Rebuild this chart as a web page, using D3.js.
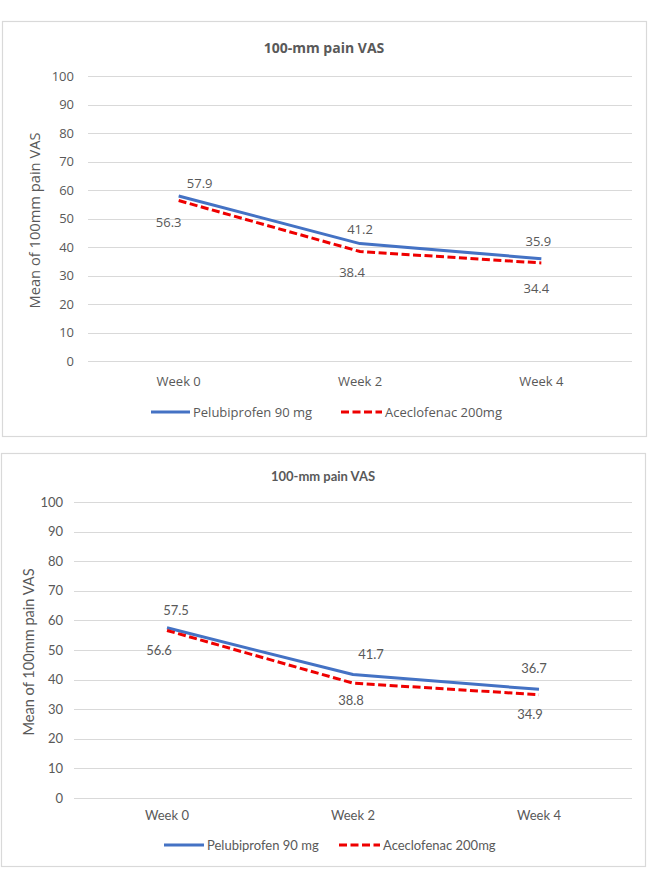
<!DOCTYPE html>
<html>
<head>
<meta charset="utf-8">
<script src="https://cdn.jsdelivr.net/npm/d3@7"></script>
<style>
  body { margin: 0; background: #fff; }
  .grid line { stroke: #d9d9d9; stroke-width: 1; }
  .frame { fill: #fff; stroke: #d9d9d9; stroke-width: 1.2; }
  text { fill: #595959; }
</style>
</head>
<body>
<svg id="chart"></svg>
<script>
      //begin: data
      var weeks = ["Week 0", "Week 2", "Week 4"];
      var seriesNames = ["Pelubiprofen 90 mg", "Aceclofenac 200mg"];
      var yTicks = [0, 10, 20, 30, 40, 50, 60, 70, 80, 90, 100];
      var chartTitle = "100-mm pain VAS";
      var yTitle = "Mean of 100mm pain VAS";

      var topPelubiprofen = [57.9, 41.2, 35.9];
      var topAceclofenac = [56.3, 38.4, 34.4];
      var bottomPelubiprofen = [57.5, 41.7, 36.7];
      var bottomAceclofenac = [56.6, 38.8, 34.9];
      //end: data

      //begin: styling conf.
      var blue = "#4472c4",
          red = "#ee0000",
          lineWidth = 3,
          dash = "8,3.5";
      //end: styling conf.

      //begin: layout conf.
      var svgWidth = 649,
          svgHeight = 871;

      var panels = [
        {
          box: {x: 2, y: 21, w: 644, h: 415},
          plot: {left: 88, right: 632, top: 76, bottom: 361},
          font: "'Open Sans', 'Noto Sans', sans-serif",
          fontSize: 13, titleSize: 14, yTitleSize: 14.7,
          titleY: 48, tickRight: 74, yTitleX: 35, weekY: 381, legendY: 412,
          legend: [{x1: 151, x2: 190}, {x1: 341, x2: 382}],
          blue: topPelubiprofen, red: topAceclofenac,
          blueOffsets: [[21, -13], [0, -14], [-3, -17]],
          redOffsets: [[-10, 22], [-8, 21], [-5, 25]]
        },
        {
          box: {x: 1, y: 453, w: 644, h: 413},
          plot: {left: 74, right: 632, top: 502, bottom: 798},
          font: "Lato, 'Open Sans', sans-serif",
          fontSize: 13, titleSize: 13, yTitleSize: 14.6,
          titleY: 476, tickRight: 63, yTitleX: 29, weekY: 815, legendY: 845,
          legend: [{x1: 164, x2: 204}, {x1: 339, x2: 380}],
          blue: bottomPelubiprofen, red: bottomAceclofenac,
          blueOffsets: [[9, -17], [18, -20], [-5, -21]],
          redOffsets: [[-8, 20], [-2, 17], [-9, 20]]
        }
      ];
      //end: layout conf.

      var svg = d3.select("#chart")
        .attr("width", svgWidth)
        .attr("height", svgHeight);

      panels.forEach(drawPanel);

      function drawPanel(p) {
        var g = svg.append("g")
          .style("font-family", p.font);

        g.append("rect")
          .classed("frame", true)
          .attr("x", p.box.x + 0.5)
          .attr("y", p.box.y + 0.5)
          .attr("width", p.box.w)
          .attr("height", p.box.h);

        var x = d3.scaleBand()
          .domain(weeks)
          .range([p.plot.left, p.plot.right]);

        var y = d3.scaleLinear()
          .domain([0, 100])
          .range([p.plot.bottom, p.plot.top]);

        // title
        g.append("text")
          .attr("x", (p.box.x + p.box.x + p.box.w) / 2)
          .attr("y", p.titleY)
          .attr("dy", "0.35em")
          .attr("text-anchor", "middle")
          .style("font-size", p.titleSize + "px")
          .style("font-weight", "bold")
          .text(chartTitle);

        // gridlines + y tick labels
        var grid = g.append("g").classed("grid", true);
        grid.selectAll("line")
          .data(yTicks)
          .enter().append("line")
          .attr("x1", p.plot.left)
          .attr("x2", p.plot.right)
          .attr("y1", function(d){ return Math.round(y(d)) + 0.5; })
          .attr("y2", function(d){ return Math.round(y(d)) + 0.5; });

        g.append("g").selectAll("text")
          .data(yTicks)
          .enter().append("text")
          .attr("x", p.tickRight)
          .attr("y", function(d){ return y(d); })
          .attr("dy", "0.35em")
          .attr("text-anchor", "end")
          .style("font-size", p.fontSize + "px")
          .text(function(d){ return d; });

        // y axis title
        g.append("text")
          .attr("transform", "translate(" + [p.yTitleX, (p.plot.top + p.plot.bottom) / 2 + 2] + ") rotate(-90)")
          .attr("dy", "0.35em")
          .attr("text-anchor", "middle")
          .style("font-size", p.yTitleSize + "px")
          .text(yTitle);

        // x category labels
        g.append("g").selectAll("text")
          .data(weeks)
          .enter().append("text")
          .attr("x", function(d){ return x(d) + x.bandwidth() / 2; })
          .attr("y", p.weekY)
          .attr("dy", "0.35em")
          .attr("text-anchor", "middle")
          .style("font-size", p.fontSize + "px")
          .text(function(d){ return d; });

        var line = d3.line()
          .x(function(d, i){ return x(weeks[i]) + x.bandwidth() / 2; })
          .y(function(d){ return y(d); });

        g.append("path")
          .attr("d", line(p.blue))
          .attr("fill", "none")
          .attr("stroke", blue)
          .attr("stroke-width", lineWidth)
          .attr("stroke-linejoin", "round");

        g.append("path")
          .attr("d", line(p.red))
          .attr("fill", "none")
          .attr("stroke", red)
          .attr("stroke-width", lineWidth)
          .attr("stroke-dasharray", dash);

        // data labels
        function labels(values, offsets) {
          g.append("g").selectAll("text")
            .data(values)
            .enter().append("text")
            .attr("x", function(d, i){ return x(weeks[i]) + x.bandwidth() / 2 + offsets[i][0]; })
            .attr("y", function(d, i){ return y(d) + offsets[i][1]; })
            .attr("dy", "0.35em")
            .attr("text-anchor", "middle")
            .style("font-size", p.fontSize + "px")
            .text(function(d){ return d.toFixed(1); });
        }
        labels(p.blue, p.blueOffsets);
        labels(p.red, p.redOffsets);

        // legend
        var legend = g.append("g").selectAll("g")
          .data(seriesNames)
          .enter().append("g");

        legend.append("line")
          .attr("x1", function(d, i){ return p.legend[i].x1; })
          .attr("x2", function(d, i){ return p.legend[i].x2; })
          .attr("y1", p.legendY)
          .attr("y2", p.legendY)
          .attr("stroke", function(d, i){ return i === 0 ? blue : red; })
          .attr("stroke-width", lineWidth)
          .attr("stroke-dasharray", function(d, i){ return i === 0 ? null : dash; });

        legend.append("text")
          .attr("x", function(d, i){ return p.legend[i].x2 + 3; })
          .attr("y", p.legendY)
          .attr("dy", "0.35em")
          .style("font-size", p.fontSize + "px")
          .text(function(d){ return d; });
      }
</script>
</body>
</html>
